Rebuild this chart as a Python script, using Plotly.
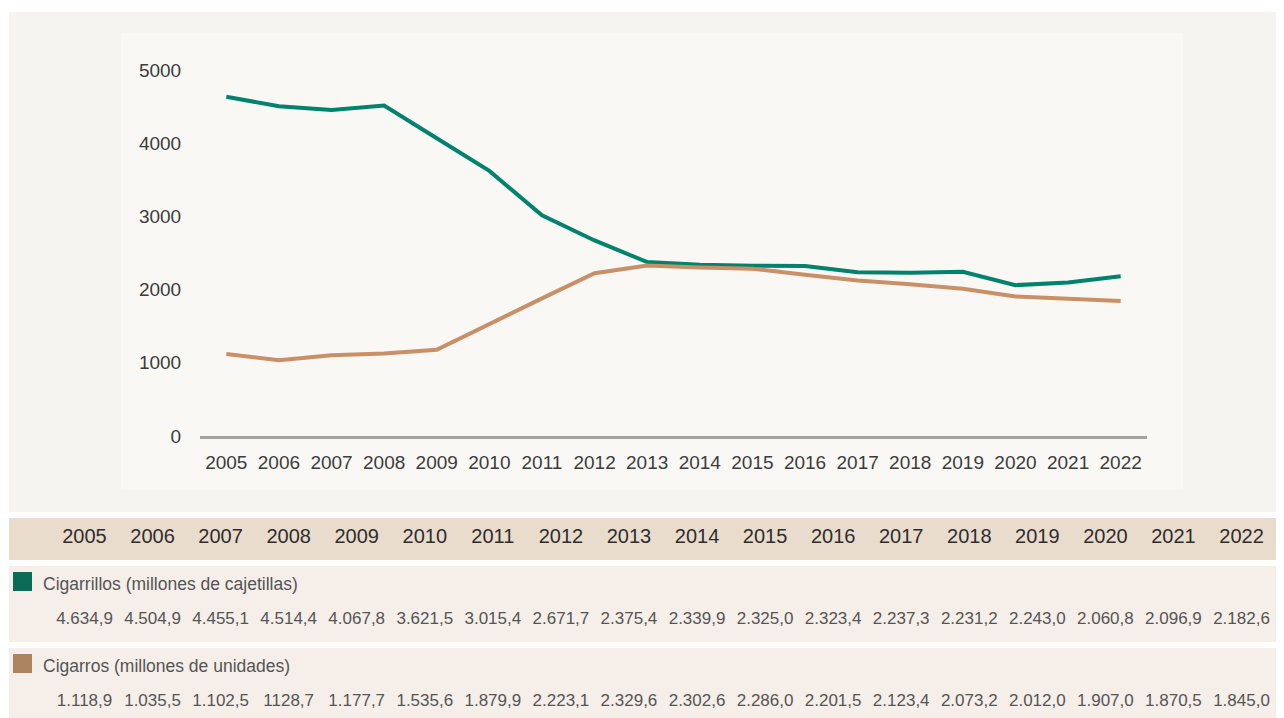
import plotly.graph_objects as go

# %%
years = list(range(2005, 2023))

# table values as printed (Spanish format), lines use the parsed numbers
cigarrillos_txt = ["4.634,9", "4.504,9", "4.455,1", "4.514,4", "4.067,8", "3.621,5",
                   "3.015,4", "2.671,7", "2.375,4", "2.339,9", "2.325,0", "2.323,4",
                   "2.237,3", "2.231,2", "2.243,0", "2.060,8", "2.096,9", "2.182,6"]
cigarros_txt = ["1.118,9", "1.035,5", "1.102,5", "1128,7", "1.177,7", "1.535,6",
                "1.879,9", "2.223,1", "2.329,6", "2.302,6", "2.286,0", "2.201,5",
                "2.123,4", "2.073,2", "2.012,0", "1.907,0", "1.870,5", "1.845,0"]

labels = ["Cigarrillos (millones de cajetillas)", "Cigarros (millones de unidades)"]
y_ticks = [0, 1000, 2000, 3000, 4000, 5000]


def to_num(s):
    return float(s.replace(".", "").replace(",", "."))


cigarrillos = [to_num(s) for s in cigarrillos_txt]
cigarros = [to_num(s) for s in cigarros_txt]

# %%
W, H = 1284, 718
OFF = 8  # the page body adds an 8px margin, so shift everything back by that
FONT = "Liberation Sans, Arial, Helvetica, sans-serif"
TEAL, TAN = "#00826c", "#c98f67"
SQ_TEAL, SQ_TAN = "#0a6b57", "#ad8461"


def px(x):
    return (x - OFF) / W


def py(y):
    return 1 - (y - OFF) / H


fig = go.Figure()

fig.add_trace(go.Scatter(x=years, y=cigarrillos, mode="lines",
                         line=dict(color=TEAL, width=4), xaxis="x", yaxis="y"))
fig.add_trace(go.Scatter(x=years, y=cigarros, mode="lines",
                         line=dict(color=TAN, width=4), xaxis="x", yaxis="y"))

# table: header years and the two value rows (y2 is in screen pixels from top)
fig.add_trace(go.Scatter(x=years, y=[538] * len(years), mode="text",
                         text=[str(y) for y in years],
                         textfont=dict(family=FONT, size=20, color="#2e2e2e"),
                         xaxis="x2", yaxis="y2"))
fig.add_trace(go.Scatter(x=years, y=[620] * len(years), mode="text",
                         text=cigarrillos_txt,
                         textfont=dict(family=FONT, size=17, color="#555555"),
                         xaxis="x2", yaxis="y2"))
fig.add_trace(go.Scatter(x=years, y=[702] * len(years), mode="text",
                         text=cigarros_txt,
                         textfont=dict(family=FONT, size=17, color="#555555"),
                         xaxis="x2", yaxis="y2"))

shapes = [
    # chart panels
    dict(x0=px(9), x1=px(1300), y0=py(12), y1=py(512), fillcolor="#f6f4f0"),
    dict(x0=px(121), x1=px(1183), y0=py(33), y1=py(490), fillcolor="#f9f8f5"),
    # table rows
    dict(x0=px(9), x1=px(1300), y0=py(518), y1=py(560), fillcolor="#eadccd"),
    dict(x0=px(9), x1=px(1300), y0=py(566), y1=py(642), fillcolor="#f5eee9"),
    dict(x0=px(9), x1=px(1300), y0=py(648), y1=py(730), fillcolor="#f5eee9"),
    # legend squares
    dict(x0=px(13), x1=px(32), y0=py(572), y1=py(591), fillcolor=SQ_TEAL),
    dict(x0=px(13), x1=px(32), y0=py(654), y1=py(673), fillcolor=SQ_TAN),
]
for s in shapes:
    s.update(type="rect", xref="paper", yref="paper", layer="below", line_width=0)

annotations = [
    dict(text=labels[0], x=px(41), y=py(584), xanchor="left", yanchor="middle"),
    dict(text=labels[1], x=px(41), y=py(666), xanchor="left", yanchor="middle"),
]
for a in annotations:
    a.update(xref="paper", yref="paper", showarrow=False,
             font=dict(family=FONT, size=17.5, color="#555555"))

# column positions of the table: 2005 at x=84.5px, 68.06px per column
col0, colw = 84.5 - OFF, 68.06

fig.update_layout(
    width=W, height=H,
    margin=dict(l=0, r=0, t=0, b=0, autoexpand=False),
    paper_bgcolor="white",
    plot_bgcolor="rgba(0,0,0,0)",
    showlegend=False,
    hovermode=False,
    shapes=shapes,
    annotations=annotations,
    font=dict(family=FONT, color="#3c3c3c"),
    xaxis=dict(domain=[px(200), px(1147)], range=[2004.5, 2022.5], anchor="y",
               automargin=False,
               tickvals=years, ticks="outside", ticklen=7, tickcolor="rgba(0,0,0,0)",
               tickfont=dict(size=19, color="#3c3c3c"),
               showline=True, linecolor="#a3a3a3", linewidth=2.5,
               showgrid=False, zeroline=False, fixedrange=True),
    yaxis=dict(domain=[py(436), py(70)], range=[0, 5000], anchor="x",
               automargin=False,
               tickvals=y_ticks, ticks="outside", ticklen=14, tickcolor="rgba(0,0,0,0)",
               tickfont=dict(size=19, color="#3c3c3c"),
               showline=False, showgrid=False, zeroline=False, fixedrange=True),
    xaxis2=dict(domain=[0, 1], anchor="y2", visible=False, automargin=False,
                range=[2005 - col0 / colw, 2005 + (W - col0) / colw]),
    yaxis2=dict(domain=[0, 1], anchor="x2", visible=False, automargin=False,
                range=[H + OFF, OFF]),
)

fig.write_html("out.html")
